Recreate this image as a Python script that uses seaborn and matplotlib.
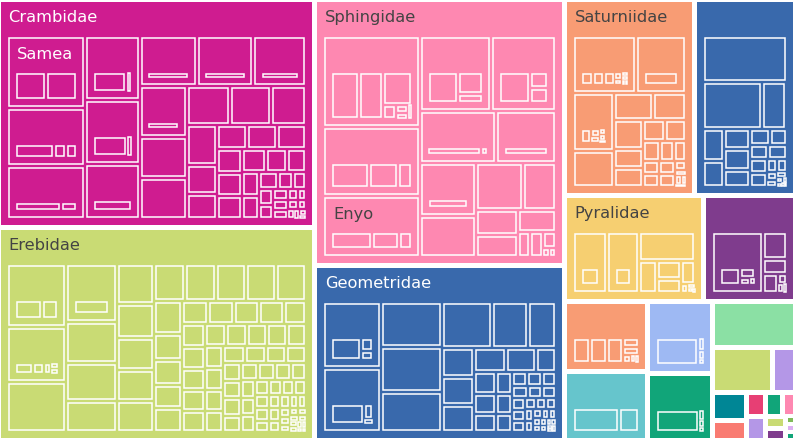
import matplotlib
matplotlib.use("Agg")
import matplotlib.pyplot as plt
from matplotlib.patches import Rectangle
from matplotlib.textpath import TextPath
from matplotlib.font_manager import FontProperties
import seaborn as sns

# moth families (top level of the treemap), observation counts
families = ["Crambidae", "Erebidae", "Sphingidae", "Geometridae", "Saturniidae",
            "Notodontidae", "Pyralidae", "Lasiocampidae", "Nymphalidae", "Lycaenidae",
            "Hesperiidae", "Pieridae", "Tortricidae", "Noctuidae", "Limacodidae",
            "Uraniidae", "Zygaenidae", "Megalopygidae", "Apatelodidae", "Drepanidae",
            "Sesiidae", "Mimallonidae", "Cossidae", "Hepialidae", "Thyrididae",
            "Castniidae"]
family_counts = [2866, 2678, 2628, 1736, 1014, 780, 584, 382, 230, 228, 188, 176,
                 152, 106, 40, 38, 26, 18, 18, 16, 12, 10, 10, 3, 3, 3]
family_colors = ["#CF1C90", "#C9DB74", "#FE88B1", "#3969AC", "#F89C74", "#3969AC",
                 "#F6CF71", "#7F3C8D", "#F89C74", "#66C5CC", "#9EB9F3", "#11A579",
                 "#8BE0A4", "#C9DB74", "#B497E7", "#008695", "#F97B72", "#E73F74",
                 "#B497E7", "#11A579", "#FE88B1", "#C9DB74", "#7F3C8D", "#80BA5A",
                 "#DCB0F2", "#11A579"]

# genus counts inside each family
genus_counts = {
    "Crambidae": [573, 466, 427, 361, 358, 311, 291, 290, 273, 245, 197, 196, 172, 162,
                  140, 125, 87, 78, 76, 73, 72, 61, 60, 59, 58, 48, 46, 44, 42, 33, 25,
                  24, 23, 20, 16, 15, 14, 12, 10, 9, 8, 6, 5, 4, 3],
    "Erebidae": [378, 330, 300, 296, 212, 191, 161, 152, 126, 122, 118, 116, 115, 114,
                 113, 112, 111, 92, 73, 71, 66, 66, 62, 60, 60, 58, 53, 52, 50, 49, 48,
                 47, 46, 45, 44, 43, 42, 41, 40, 39, 38, 37, 36, 35, 34, 33, 32, 31, 30,
                 29, 28, 27, 26, 25, 24, 23, 22, 21, 20, 19, 18, 17, 16, 15, 14, 13, 12,
                 11, 10, 9, 8, 7, 6, 6, 5, 5, 4, 4, 3, 3, 2, 2],
    "Sphingidae": [874, 656, 580, 533, 480, 395, 307, 297, 228, 224, 158, 103, 90, 82,
                   31, 30, 21, 6, 5],
    "Geometridae": [376, 359, 272, 266, 240, 220, 162, 126, 90, 88, 82, 77, 72, 48, 46,
                    42, 38, 35, 32, 29, 20, 19, 19, 18, 17, 16, 15, 14, 13, 12, 11, 10,
                    9, 9, 8, 7, 6, 5, 5, 4, 4, 3, 3, 2, 2, 2],
    "Saturniidae": [359, 285, 238, 148, 105, 89, 86, 54, 54, 48, 46, 34, 28, 23, 22, 22,
                    21, 21, 10, 6, 5, 4, 3],
    "Notodontidae": [378, 266, 113, 64, 53, 53, 52, 44, 33, 27, 26, 25, 24, 23, 13, 12,
                     8, 7, 5, 3, 2, 2, 1, 1],
    "Pyralidae": [195, 189, 157, 52, 42, 32, 30, 5, 3, 2, 1],
    "Lasiocampidae": [306, 65, 34, 28, 9, 5, 3],
    "Nymphalidae": [36, 36, 35, 12, 11, 5, 3, 2],
    "Lycaenidae": [45, 19],
    "Hesperiidae": [111, 7, 5, 3],
    "Pieridae": [111, 6, 4, 3],
    "Tortricidae": [40, 22, 14],
    "Noctuidae": [30, 12, 8],
    "Limacodidae": [14, 6],
    "Uraniidae": [12, 5],
    "Zygaenidae": [8, 3],
    "Megalopygidae": [6, 3],
    "Apatelodidae": [5, 4],
    "Drepanidae": [4, 3],
    "Sesiidae": [4, 2],
    "Mimallonidae": [3, 2],
    "Cossidae": [3, 2],
    "Hepialidae": [1],
    "Thyrididae": [1],
    "Castniidae": [1],
}

# species counts inside some genera (family -> genus index -> counts)
species_counts = {
    "Crambidae": {0: [52, 50], 1: [37, 12, 10], 2: [44, 15], 3: [30, 5], 4: [28, 4],
                  5: [1], 6: [1], 7: [1], 8: [1], 9: [1]},
    "Erebidae": {0: [27, 16], 1: [16, 9, 6, 3, 3], 3: [1]},
    "Sphingidae": {0: [125, 107, 90, 19, 10, 7, 5], 1: [34, 27, 12], 2: [38, 25, 12],
                   3: [93, 53, 22], 4: [93, 28, 27], 5: [45, 6], 6: [1], 7: [1]},
    "Geometridae": {0: [67, 17, 11], 1: [57, 12, 4]},
    "Saturniidae": {0: [12, 11, 10, 4, 3, 2, 2, 1, 1], 1: [1], 2: [8, 4, 3, 2, 2, 1]},
    "Pyralidae": {0: [1], 1: [1]},
    "Lasiocampidae": {0: [34, 15, 6, 3]},
}

genus_names = {"Crambidae": {0: "Samea"}, "Sphingidae": {2: "Enyo"}}

sns.set_theme(style="white")
plt.rcParams["font.family"] = ["DejaVu Sans"]
palette = sns.color_palette(family_colors)

LABEL_PX = 16.3
fp = FontProperties(family="DejaVu Sans")


def squarify(values, x0, y0, x1, y1):
    # d3 style squarified layout, values already sorted descending
    rects = []
    total = float(sum(values))
    i0, n = 0, len(values)
    while i0 < n:
        dx, dy = x1 - x0, y1 - y0
        s = values[i0]
        lo = hi = s
        alpha = max(dy / dx, dx / dy) / total
        beta = s * s * alpha
        best = max(hi / beta, beta / lo)
        i1 = i0 + 1
        while i1 < n:
            v = values[i1]
            s2 = s + v
            lo2, hi2 = min(lo, v), max(hi, v)
            beta = s2 * s2 * alpha
            r = max(hi2 / beta, beta / lo2)
            if r > best:
                break
            s, lo, hi, best = s2, lo2, hi2, r
            i1 += 1
        if dx < dy:
            h = dy * s / total
            xx = x0
            for v in values[i0:i1]:
                w = dx * v / s
                rects.append((xx, y0, xx + w, y0 + h))
                xx += w
            y0 += h
        else:
            w = dx * s / total
            yy = y0
            for v in values[i0:i1]:
                h = dy * v / s
                rects.append((x0, yy, x0 + w, yy + h))
                yy += h
            x0 += w
        total -= s
        i0 = i1
    return rects


def shrink(r, g):
    x0, y0, x1, y1 = r
    g = min(g, (x1 - x0) / 4, (y1 - y0) / 4)
    return x0 + g, y0 + g, x1 - g, y1 - g


def body(r):
    # room left for children under the header strip
    x0, y0, x1, y1 = r
    return x0 + 6, y0 + 34, x1 - 6, y1 - 6


def roomy(r):
    return r[2] - r[0] > 3 and r[3] - r[1] > 3


def box(ax, r, face, edge):
    x0, y0, x1, y1 = r
    ax.add_patch(Rectangle((x0, y0), x1 - x0, y1 - y0, facecolor=face,
                           edgecolor=edge, linewidth=1.1 if edge != "none" else 0))


def ink(c):
    lum = 0.299 * c[0] + 0.587 * c[1] + 0.114 * c[2]
    return "white" if lum < 0.5 else "#444444"


def label(ax, r, s, color, dy):
    x0, y0, x1, y1 = r
    w = TextPath((0, 0), s, size=LABEL_PX, prop=fp).get_extents().width
    if w + 14 <= x1 - x0 and y1 - y0 >= 30:
        ax.text(x0 + 8, y0 + dy, s, fontsize=LABEL_PX * 0.72, color=color,
                ha="left", va="baseline")


def ranked(vals):
    return sorted(range(len(vals)), key=lambda k: -vals[k])


fig = plt.figure(figsize=(7.93, 4.40), dpi=100)
ax = fig.add_axes([0, 0, 1, 1])
ax.set_xlim(0, 793)
ax.set_ylim(440, 0)
ax.axis("off")

forder = ranked(family_counts)
for i, r in zip(forder, squarify([family_counts[i] for i in forder], -2, -0.5, 795, 440.5)):
    name, color = families[i], palette[i]
    fr = shrink(r, 2.5)
    box(ax, fr, color, "none")
    label(ax, fr, name, ink(color), 20)

    area = body(fr)
    if not roomy(area):
        continue
    gvals = genus_counts[name]
    gorder = ranked(gvals)
    for k, gr in zip(gorder, squarify([gvals[k] for k in gorder], *area)):
        gd = shrink(gr, 2)
        box(ax, gd, "none", "white")
        gname = genus_names.get(name, {}).get(k)
        if gname:
            label(ax, gd, gname, ink(color), 21)
        svals = species_counts.get(name, {}).get(k)
        if not svals:
            continue
        sarea = body(gd)
        if sarea[2] - sarea[0] <= 0.5 or sarea[3] - sarea[1] <= 0.5:
            continue
        sorder = ranked(svals)
        for sr in squarify([svals[j] for j in sorder], *sarea):
            box(ax, shrink(sr, 2), "none", "white")

fig.savefig("out.png", dpi=100)
